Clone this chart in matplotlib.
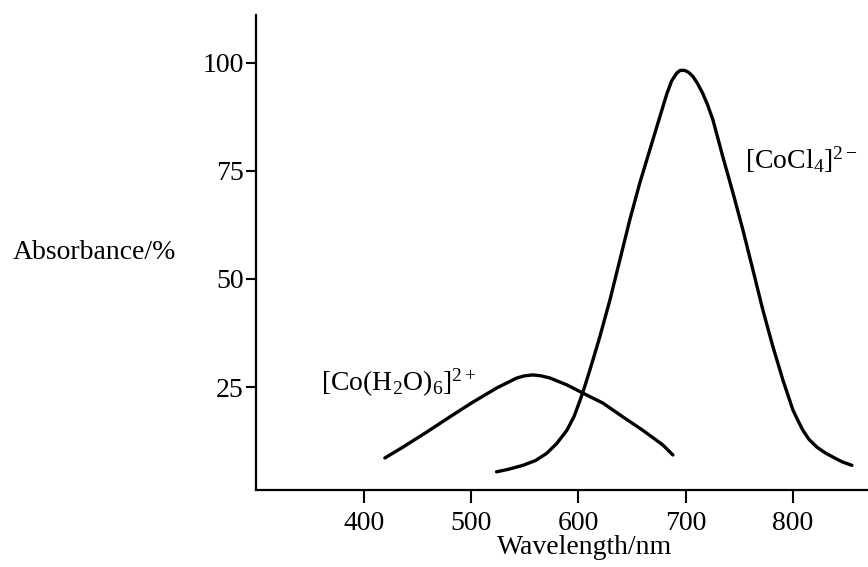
import matplotlib.pyplot as plt

plt.rcParams['font.family'] = 'Liberation Serif'
plt.rcParams['mathtext.fontset'] = 'custom'
plt.rcParams['mathtext.rm'] = 'Liberation Serif'
plt.rcParams['mathtext.it'] = 'Liberation Serif:italic'

# Curva do [Co(H2O)6]2+
comp_h2o = [419.6, 436.4, 458.7, 480.2, 501.6, 524.0, 542.7, 550.0, 557.6,
            565.0, 573.4, 589.3, 604.2, 622.8, 641.5, 660.1, 678.8, 688.1]
abs_h2o = [8.6, 11.1, 14.6, 18.1, 21.5, 24.8, 27.1, 27.6, 27.8,
           27.6, 27.1, 25.5, 23.6, 21.3, 18.1, 15.0, 11.6, 9.3]

# Curva do [CoCl4]2-
comp_cl = [523.7, 535.0, 548.3, 560.0, 570.6, 580.0, 589.3, 596.0, 601.4,
           606.0, 610.7, 620.0, 629.4, 638.7, 648.0, 657.3, 666.7, 676.0,
           682.5, 687.0, 691.8, 695.0, 699.0, 702.5, 706.8, 711.0, 716.1,
           720.5, 725.4, 734.7, 744.1, 753.4, 762.7, 772.0, 781.4, 790.7,
           800.0, 805.0, 809.3, 815.0, 822.4, 830.0, 837.4, 846.0, 855.0]
abs_cl = [5.4, 6.0, 6.9, 8.0, 9.7, 12.0, 15.0, 18.2, 21.8,
          25.2, 28.9, 36.6, 45.1, 54.4, 63.7, 72.2, 79.9, 87.5,
          92.8, 95.8, 97.6, 98.2, 98.2, 97.8, 96.8, 95.2, 92.8,
          90.2, 86.8, 78.2, 69.9, 61.3, 52.1, 42.8, 34.3, 26.6,
          19.7, 17.1, 15.0, 12.9, 11.1, 9.8, 8.8, 7.7, 6.9]

ticks_x = [400, 500, 600, 700, 800]
ticks_y = [25, 50, 75, 100]

fig = plt.figure(figsize=(8.68, 5.67), dpi=100)
ax = fig.add_axes([256 / 868, 1 - 490 / 567, 1 - 256 / 868, (490 - 15) / 567])

ax.plot(comp_h2o, abs_h2o, color='black', lw=2.4, solid_capstyle='round', solid_joinstyle='round')
ax.plot(comp_cl, abs_cl, color='black', lw=2.4, solid_capstyle='round', solid_joinstyle='round')

ax.set_xlim(299.5, 870)
ax.set_ylim(1.2, 111)
ax.set_xticks(ticks_x)
ax.set_yticks(ticks_y)
ax.tick_params(axis='x', length=9, width=1.5, pad=6, labelsize=20)
ax.tick_params(axis='y', length=7, width=1.5, pad=2, labelsize=20)

for lado in ['top', 'right']:
    ax.spines[lado].set_visible(False)
for lado in ['left', 'bottom']:
    ax.spines[lado].set_linewidth(1.6)

ax.set_xlabel('Wavelength/nm', fontsize=20)
ax.xaxis.set_label_coords((585 - 256) / (868 - 256), -(535 - 490) / 475)
fig.text(13 / 868, 1 - 253 / 567, 'Absorbance/%', fontsize=20, va='center', ha='left')

ax.text(360, 26, r'$[\mathrm{Co(H_2O)_6}]^{2+}$', fontsize=20, va='center', ha='left')
ax.text(755, 77.5, r'$[\mathrm{CoCl_4}]^{2-}$', fontsize=20, va='center', ha='left')

fig.savefig('out.png', dpi=100)
